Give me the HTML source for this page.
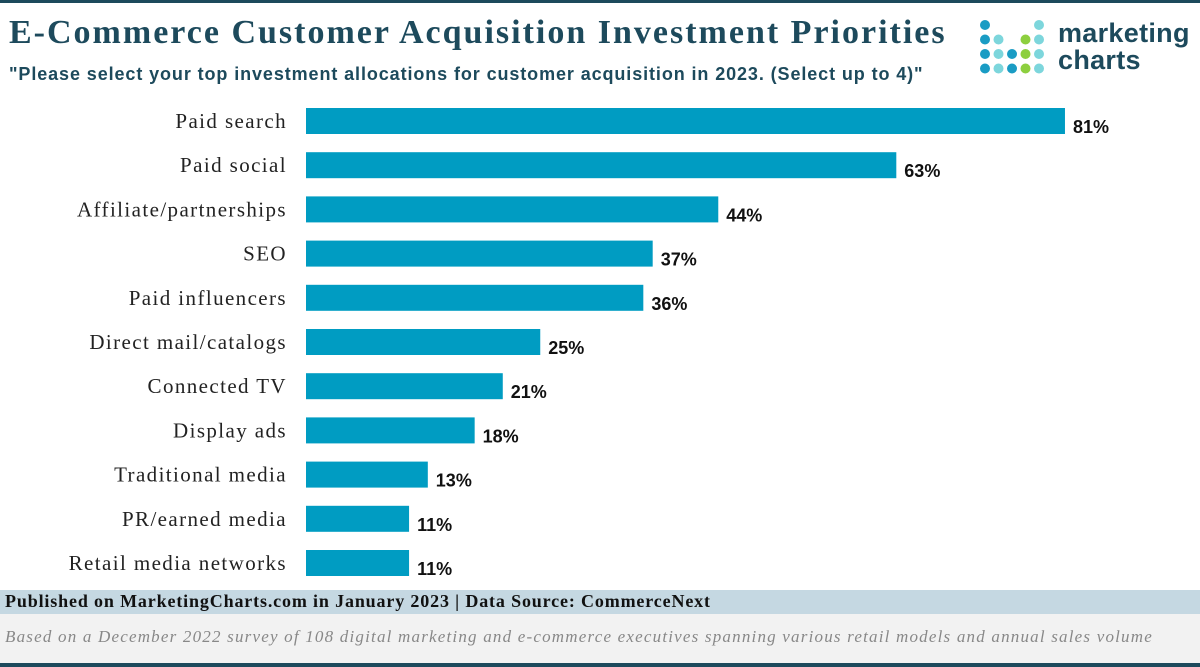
<!DOCTYPE html>
<html><head><meta charset="utf-8"><style>
body{margin:0;width:1200px;height:667px;background:#fff;overflow:hidden;position:relative;font-family:"Liberation Sans",sans-serif}
.abs{position:absolute}
</style></head><body>
<div class="abs" style="left:0;top:0;width:1200px;height:3px;background:#1d4a5c"></div>
<div class="abs" style="left:9px;top:14px;font-family:'Liberation Serif',serif;font-weight:bold;font-size:34px;letter-spacing:2px;color:#1d4a5c;white-space:nowrap">E-Commerce Customer Acquisition Investment Priorities</div>
<div class="abs" style="left:9px;top:64px;font-weight:bold;font-size:18px;letter-spacing:0.9px;color:#1d4a5c;white-space:nowrap">"Please select your top investment allocations for customer acquisition in 2023. (Select up to 4)"</div>
<svg class="abs" style="left:978px;top:18px" width="80" height="60">
<g id="dots"></g></svg>
<div class="abs" style="left:1058px;top:20px;font-weight:bold;font-size:27px;line-height:27px;letter-spacing:0.3px;color:#1d4a5c">marketing<br>charts</div>
<svg class="abs" id="chart" style="left:0;top:95px" width="1200" height="490"></svg>
<div class="abs" style="left:0;top:590px;width:1200px;height:24px;background:#c5d8e2"></div>
<div class="abs" style="left:5px;top:591px;font-family:'Liberation Serif',serif;font-weight:bold;font-size:18px;letter-spacing:0.85px;color:#111;white-space:nowrap">Published on MarketingCharts.com in January 2023 | Data Source: CommerceNext</div>
<div class="abs" style="left:0;top:614px;width:1200px;height:49px;background:#f2f2f2"></div>
<div class="abs" style="left:5px;top:627px;font-family:'Liberation Serif',serif;font-style:italic;font-size:17px;letter-spacing:1.2px;color:#888;white-space:nowrap">Based on a December 2022 survey of 108 digital marketing and e-commerce executives spanning various retail models and annual sales volume</div>
<div class="abs" style="left:0;top:663px;width:1200px;height:4px;background:#1d4a5c"></div>
<script>
const categories=["Paid search","Paid social","Affiliate/partnerships","SEO","Paid influencers","Direct mail/catalogs","Connected TV","Display ads","Traditional media","PR/earned media","Retail media networks"];
const values=[81,63,44,37,36,25,21,18,13,11,11];
const valueLabels=["81%","63%","44%","37%","36%","25%","21%","18%","13%","11%","11%"];
const NS="http://www.w3.org/2000/svg";
const svg=document.getElementById('chart');
const x0=306,pxPer=9.37,yTop=26,step=44.2,bh=26;
const xs=v=>v*pxPer;
const ys=i=>yTop+i*step;
categories.forEach((c,i)=>{
 const cy=ys(i);
 const r=document.createElementNS(NS,'rect');
 r.setAttribute('x',x0);r.setAttribute('y',cy-bh/2);r.setAttribute('width',xs(values[i]));r.setAttribute('height',bh);r.setAttribute('fill','#009cc2');
 
 
 svg.appendChild(r);
 const t=document.createElementNS(NS,'text');
 t.setAttribute('x',287);t.setAttribute('y',cy+7);t.setAttribute('text-anchor','end');
 t.setAttribute('font-family','Liberation Serif, serif');t.setAttribute('font-size','21');t.setAttribute('letter-spacing','1.4');t.setAttribute('fill','#222');
 t.textContent=c;
 
 
 svg.appendChild(t);
 const v=document.createElementNS(NS,'text');
 v.setAttribute('x',x0+xs(values[i])+8);v.setAttribute('y',cy+12);
 v.setAttribute('font-family','Liberation Sans, sans-serif');v.setAttribute('font-weight','bold');v.setAttribute('font-size','18');v.setAttribute('fill','#111');
 v.textContent=valueLabels[i];
 
 
 svg.appendChild(v);
});
const g=document.getElementById('dots');
const dcols=[["#1a9cc4",null,null,null,"#7dd6dc"],["#1a9cc4","#7dd6dc",null,"#8dcf3f","#7dd6dc"],["#1a9cc4","#7dd6dc","#1a9cc4","#8dcf3f","#7dd6dc"],["#1a9cc4","#7dd6dc","#1a9cc4","#8dcf3f","#7dd6dc"]];
dcols.forEach((row,ri)=>row.forEach((col,ci)=>{if(!col)return;
 const c=document.createElementNS(NS,'circle');
 c.setAttribute('cx',7+ci*13.5);c.setAttribute('cy',7+ri*14.5);c.setAttribute('r',5);c.setAttribute('fill',col);
 
 
 g.appendChild(c);}));
</script>
</body></html>
